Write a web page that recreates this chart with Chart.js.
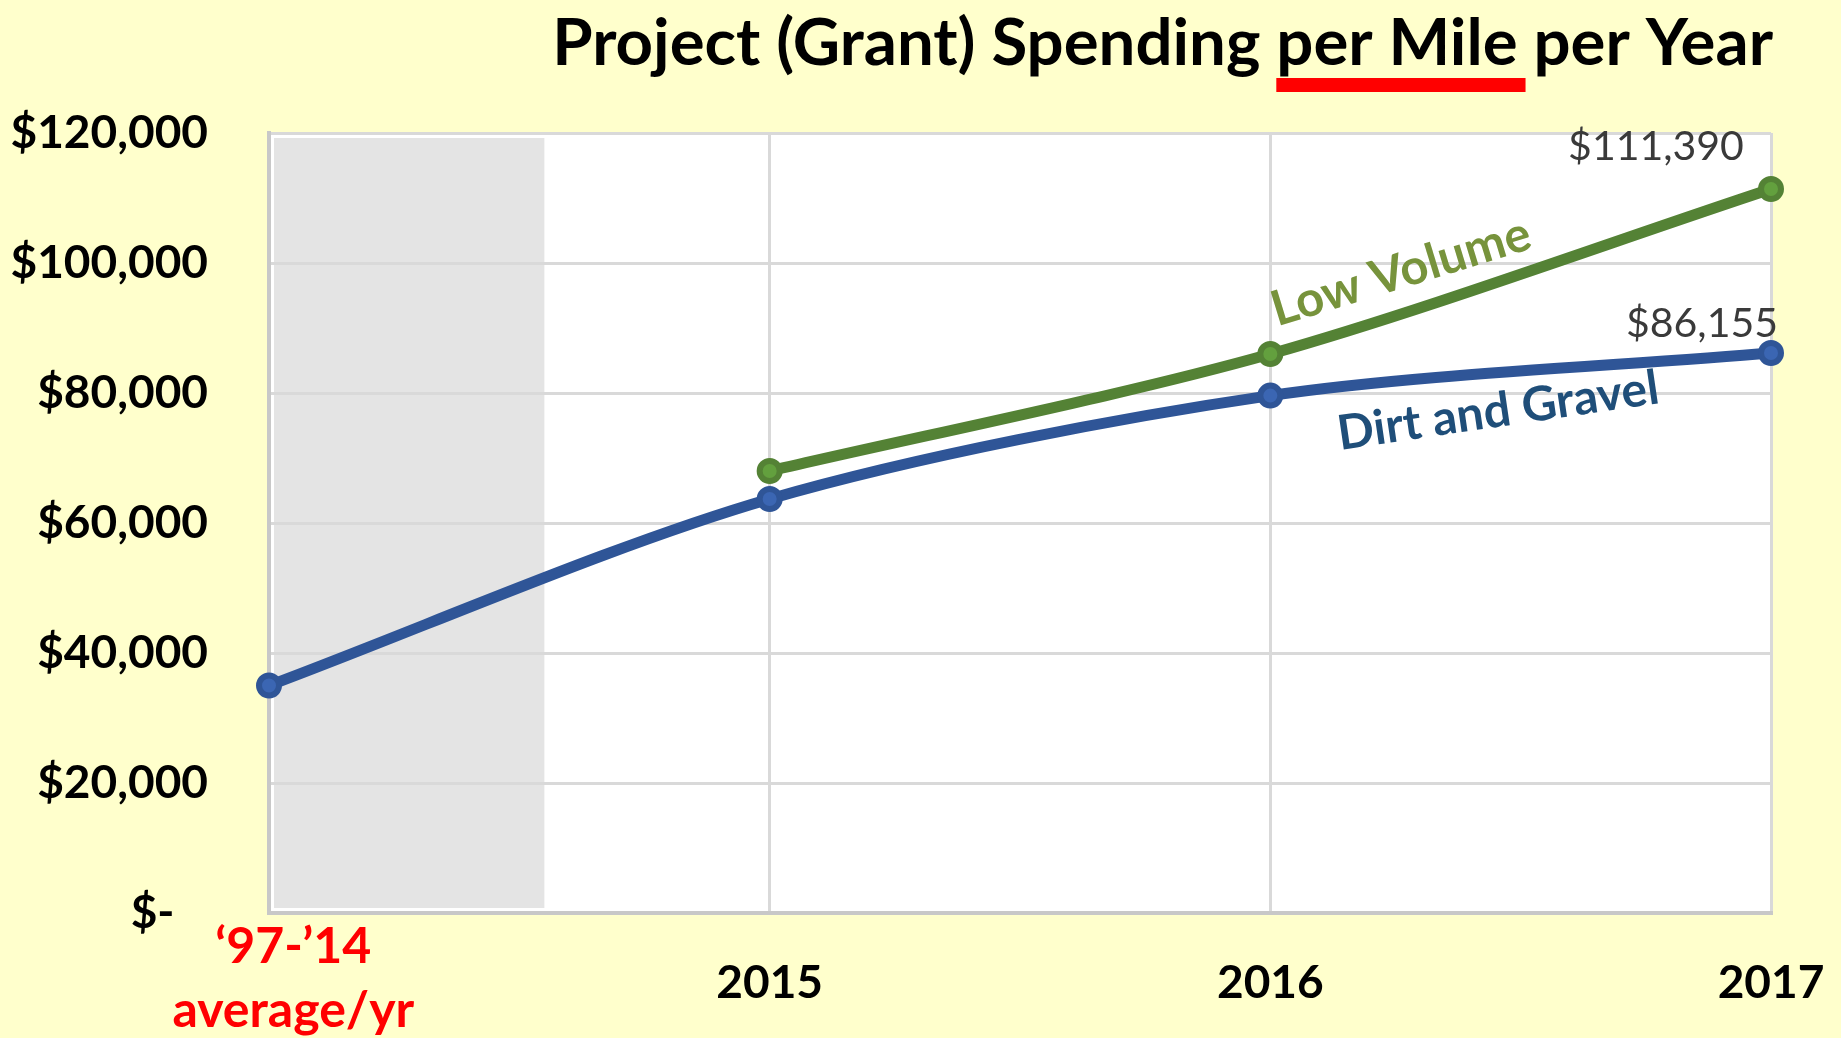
<!DOCTYPE html>
<html>
<head>
<meta charset="utf-8">
<script src="https://cdn.jsdelivr.net/npm/chart.js@4/dist/chart.umd.min.js"></script>
<style>
  html, body { margin: 0; padding: 0; background: #FFFFCC; }
  #wrap { width: 1841px; height: 1038px; position: relative; }
  canvas { display: block; }
</style>
</head>
<body>
<div id="wrap"><canvas id="c" width="1841" height="1038"></canvas></div>
<script>
// ---- data ----
const chartTitle = 'Project (Grant) Spending per Mile per Year';
const titleUnderlined = 'per Mile';
const categories = [['    \u201897-\u201914', '    average/yr'], '2015', '2016', '2017'];
const seriesNames = ['Dirt and Gravel', 'Low Volume'];
const dirtGravel = [35000, 63700, 79600, 86155];
const lowVolume = [null, 68000, 86000, 111390];
const yTickValues = [0, 20000, 40000, 60000, 80000, 100000, 120000];

const fmtMoney = v => v === 0 ? '$-   ' : '$' + v.toLocaleString('en-US');

const FONT = 'Lato';
const COL_BLUE = '#2F5597';
const COL_GREEN = '#548235';

// background / shaded region under the grid
const bgPlugin = {
  id: 'bg',
  beforeDraw(chart) {
    const { ctx, chartArea: a, scales: { x } } = chart;
    ctx.save();
    ctx.fillStyle = '#FFFFCC';
    ctx.fillRect(0, 0, chart.width, chart.height);
    ctx.fillStyle = '#FFFFFF';
    ctx.fillRect(a.left, a.top, a.right - a.left, a.bottom - a.top);
    const step = x.getPixelForValue(1) - x.getPixelForValue(0);
    const right = x.getPixelForValue(0) + 0.55 * step;
    ctx.fillStyle = '#E4E4E4';
    ctx.fillRect(a.left + 5, a.top + 5, right - a.left - 5, a.bottom - a.top - 10);
    ctx.restore();
  }
};

// title with red underline
const titlePlugin = {
  id: 'customTitle',
  afterDraw(chart) {
    const { ctx, chartArea: a } = chart;
    ctx.save();
    let size = 62;
    ctx.font = `bold ${size}px ${FONT}`;
    const w0 = ctx.measureText(chartTitle).width;
    size = size * 1221 / w0;
    ctx.font = `bold ${size}px ${FONT}`;
    const w = ctx.measureText(chartTitle).width;
    const right = a.right + 2;
    const left = right - w;
    ctx.fillStyle = '#000000';
    ctx.textAlign = 'left';
    ctx.textBaseline = 'alphabetic';
    ctx.fillText(chartTitle, left, 65);
    const idx = chartTitle.indexOf(titleUnderlined);
    const pre = ctx.measureText(chartTitle.slice(0, idx)).width;
    const uw = ctx.measureText(titleUnderlined).width;
    ctx.fillStyle = '#FF0000';
    ctx.fillRect(left + pre, 78, uw + 8, 14);
    ctx.restore();
  }
};

// value labels at the last points and series labels along lines
const labelsPlugin = {
  id: 'labels',
  afterDatasetsDraw(chart) {
    const { ctx, scales: { x, y } } = chart;
    ctx.save();
    ctx.font = `400 41px ${FONT}`;
    ctx.fillStyle = '#3A3A3A';
    ctx.textAlign = 'center';
    ctx.textBaseline = 'middle';
    const pG = chart.getDatasetMeta(1).data[3];
    ctx.fillText(fmtMoney(lowVolume[3]), pG.x - 115, pG.y - 42);
    const pB = chart.getDatasetMeta(0).data[3];
    ctx.fillText(fmtMoney(dirtGravel[3]), pB.x - 69, pB.y - 29);

    // series name labels
    const drawRot = (text, xv, yv, angDeg, color, size) => {
      ctx.save();
      ctx.translate(x.getPixelForValue(xv), y.getPixelForValue(yv));
      ctx.rotate(angDeg * Math.PI / 180);
      ctx.font = `bold ${size}px ${FONT}`;
      ctx.fillStyle = color;
      ctx.textAlign = 'center';
      ctx.textBaseline = 'middle';
      ctx.fillText(text, 0, 0);
      ctx.restore();
    };
    drawRot(seriesNames[1], 2.261, 98600, -17, '#77933C', 49);
    drawRot(seriesNames[0], 2.455, 77200, -8.3, '#1F4E79', 48);
    ctx.restore();
  }
};

new Chart(document.getElementById('c'), {
  type: 'line',
  data: {
    labels: categories,
    datasets: [
      {
        label: seriesNames[0],
        data: dirtGravel,
        borderColor: COL_BLUE,
        backgroundColor: '#3B66B3',
        borderWidth: 11,
        pointRadius: 10,
        pointBorderWidth: 6,
        pointBorderColor: COL_BLUE,
        pointBackgroundColor: '#3B66B3',
        tension: 0.3,
        fill: false
      },
      {
        label: seriesNames[1],
        data: lowVolume,
        borderColor: COL_GREEN,
        backgroundColor: '#5E9A3A',
        borderWidth: 11,
        pointRadius: 10,
        pointBorderWidth: 6,
        pointBorderColor: COL_GREEN,
        pointBackgroundColor: '#63A03E',
        tension: 0.3,
        fill: false
      }
    ]
  },
  options: {
    responsive: false,
    animation: false,
    devicePixelRatio: 1,
    layout: { padding: { top: 133, right: 70, bottom: 0, left: 12 } },
    plugins: {
      legend: { display: false },
      tooltip: { enabled: false },
      title: { display: false }
    },
    scales: {
      x: {
        type: 'category',
        offset: false,
        grid: { color: '#D9D9D9', lineWidth: 3, drawTicks: false },
        border: { color: '#C8C8C8', width: 4 },
        ticks: {
          padding: 34,
          maxRotation: 0,
          autoSkip: false,
          crossAlign: 'center',
          color: ctx => ctx.index === 0 ? '#FF0000' : '#000000',
          font: ctx => ctx.index === 0
            ? { family: FONT, size: 50, weight: 'bold', lineHeight: 1.28 }
            : { family: FONT, size: 46, weight: 'bold', lineHeight: 1.2 }
        },
        afterFit(scale) {
          scale.height = 125;
          scale.paddingLeft = 0;
          scale.paddingRight = 0;
        }
      },
      y: {
        min: 0,
        max: 120000,
        afterBuildTicks(scale) { scale.ticks = yTickValues.map(v => ({ value: v })); },
        grid: { color: '#D9D9D9', lineWidth: 3, drawTicks: false },
        border: { color: '#C8C8C8', width: 4 },
        ticks: {
          padding: 61,
          color: '#000000',
          font: { family: FONT, size: 46, weight: 'bold' },
          callback: v => fmtMoney(v)
        },
        afterFit(scale) {
          scale.width = 257;
          scale.paddingTop = 0;
          scale.paddingBottom = 0;
        }
      }
    }
  },
  plugins: [bgPlugin, titlePlugin, labelsPlugin]
});
</script>
</body>
</html>
